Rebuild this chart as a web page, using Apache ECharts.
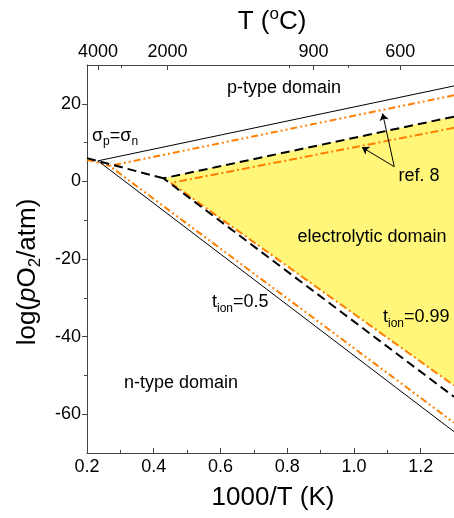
<!DOCTYPE html>
<html><head><meta charset="utf-8">
<script src="https://cdn.jsdelivr.net/npm/echarts@6/dist/echarts.min.js"></script>
<style>html,body{margin:0;padding:0;background:#fff}#c{width:454px;height:518px}</style>
</head><body><div id="c"></div>
<script>
// ---- data ----
const xMajorTicks = [0.2, 0.4, 0.6, 0.8, 1.0, 1.2];
const xMinorTicks = [0.3, 0.5, 0.7, 0.9, 1.1];
const yMajorTicks = [-60, -40, -20, 0, 20];
const yMinorTicks = [-50, -30, -10, 10];
const topTickLabels = ['4000', '2000', '900', '600'];
const topTickAt = [0.233, 0.441, 0.879, 1.139];
const topMinorAt = [0.302, 0.805, 0.983];

const tion05 = [[1.3, 24.6], [0.2327, 5.3], [1.3, -64.5]];
const ref8_05 = [[1.3, 22.2], [0.2675, 4.0], [1.3, -62.2]];
const ref8_05_left = [[0.2, 5.6], [0.2675, 4.0]];
const tion099 = [[1.3, 16.7], [0.4288, 0.8], [1.3, -55.5]];
const tion099_left = [[0.2, 6.0], [0.4288, 0.8]];
const ref8_099 = [[1.3, 13.8], [0.452, -0.4], [1.3, -52.6]];
const electrolyticArea = [[0.432, 0.85], [1.3, 16.7], [1.3, -52.6]];
const arrowStart = [1.121, 3.8];
const arrowTips = [[1.086, 17.5], [1.024, 8.8]];

// ---- styling ----
const FONT = '"Liberation Sans", Arial, Helvetica, sans-serif';
const ORANGE = '#ff7f00';
const AXIS = '#444';
const cvs = document.createElement('canvas').getContext('2d');
function tw(t, size, style) { cvs.font = (style || 'normal') + ' ' + size + 'px ' + FONT; return cvs.measureText(t).width; }
function textRun(pieces, x, y, align, rotate) {
  const widths = pieces.map(p => tw(p[0], p[1], p[3]));
  const total = widths.reduce((a, b) => a + b, 0);
  let cx = align === 'center' ? -total / 2 : 0;
  const children = pieces.map((p, i) => {
    const el = { type: 'text', x: cx, y: p[2] || 0, z: 100,
      style: { text: p[0], fontSize: p[1], fontFamily: FONT, fontStyle: p[3] || 'normal', fill: '#000',
        textAlign: 'left', textVerticalAlign: 'middle', align: 'left', verticalAlign: 'middle' } };
    cx += widths[i];
    return el;
  });
  return { type: 'group', x: x, y: y, rotation: rotate || 0, children: children, silent: true, z: 100 };
}

const chart = echarts.init(document.getElementById('c'), null, { renderer: 'canvas' });
const lbl = { fontSize: 18, color: '#000', fontFamily: FONT };
function baseX(extra) { return Object.assign({ type: 'value', min: 0.2, max: 1.3, splitLine: { show: false } }, extra); }
function baseY(extra) { return Object.assign({ type: 'value', min: -70, max: 30, splitLine: { show: false } }, extra); }
function line(data, color, width, type, z) {
  return { type: 'line', data: data, symbol: 'none', showSymbol: false, silent: true, animation: false,
    xAxisIndex: 0, yAxisIndex: 0, z: z || 3, lineStyle: { color: color, width: width, type: type } };
}

chart.setOption({
  animation: false,
  grid: { left: 87, top: 65, width: 370, height: 388, containLabel: false },
  xAxis: [
    baseX({ position: 'bottom', axisLine: { onZero: false, lineStyle: { color: AXIS, width: 1 } },
      axisTick: { inside: true, length: 5, customValues: xMajorTicks, lineStyle: { color: AXIS } },
      axisLabel: Object.assign({ customValues: xMajorTicks, margin: 5, formatter: v => v.toFixed(1) }, lbl) }),
    baseX({ position: 'bottom', axisLine: { show: false, onZero: false },
      axisTick: { inside: true, length: 3, customValues: xMinorTicks, lineStyle: { color: AXIS } },
      axisLabel: { show: false } }),
    baseX({ position: 'top', axisLine: { onZero: false, lineStyle: { color: AXIS, width: 1 } },
      axisTick: { inside: true, length: 5, customValues: topTickAt, lineStyle: { color: AXIS } },
      axisLabel: Object.assign({ customValues: topTickAt, margin: 4,
        formatter: v => topTickLabels[topTickAt.indexOf(v)] }, lbl) }),
    baseX({ position: 'top', axisLine: { show: false, onZero: false },
      axisTick: { inside: true, length: 3, customValues: topMinorAt, lineStyle: { color: AXIS } },
      axisLabel: { show: false } })
  ],
  yAxis: [
    baseY({ position: 'left', axisLine: { show: true, onZero: false, lineStyle: { color: AXIS, width: 1 } },
      axisTick: { show: true, inside: false, length: 5, customValues: yMajorTicks, lineStyle: { color: AXIS } },
      axisLabel: Object.assign({ customValues: yMajorTicks, margin: 6 }, lbl) }),
    baseY({ position: 'left', axisLine: { show: false, onZero: false },
      axisTick: { show: true, inside: false, length: 3, customValues: yMinorTicks, lineStyle: { color: AXIS } },
      axisLabel: { show: false } })
  ],
  series: [
    { type: 'custom', xAxisIndex: 0, yAxisIndex: 0, data: electrolyticArea, clip: true, silent: true, z: 1,
      renderItem: function (params, api) {
        if (params.dataIndex !== 0) return null;
        return { type: 'polygon', shape: { points: electrolyticArea.map(p => api.coord(p)) },
          style: { fill: '#fff67a' } };
      } },
    line(tion05, '#000', 1, 'solid', 4),
    line(ref8_05, ORANGE, 2, [7, 3, 2, 3, 2, 3], 3),
    line(ref8_05_left, ORANGE, 2, [7, 3, 2, 3, 2, 3], 3),
    line(tion099, '#000', 2, [9, 5], 4),
    line(tion099_left, '#000', 2, [9, 5], 4),
    line(ref8_099, ORANGE, 2, [8, 3, 2, 3], 3),
    { type: 'lines', coordinateSystem: 'cartesian2d', xAxisIndex: 0, yAxisIndex: 0, silent: true, z: 5,
      symbol: ['none', 'arrow'], symbolSize: 7,
      lineStyle: { color: '#000', width: 1, opacity: 1, curveness: 0 },
      data: arrowTips.map(t => ({ coords: [arrowStart, t] })) }
  ],
  graphic: { elements: [
    textRun([['T (', 26], ['o', 17, -8], ['C)', 26]], 272, 22, 'center'),
    textRun([['1000/T (K)', 26]], 273, 498, 'center'),
    textRun([['log(', 26], ['p', 26, 0, 'italic'], ['O', 26], ['2', 17, 7], ['/atm)', 26]], 28, 272, 'center', Math.PI / 2),
    textRun([['p-type domain', 18]], 284, 88, 'center'),
    textRun([['n-type domain', 18]], 181, 383, 'center'),
    textRun([['electrolytic domain', 18]], 372, 237, 'center'),
    textRun([['ref. 8', 18]], 419, 176, 'center'),
    textRun([['\u03c3', 18], ['p', 12, 6], ['=', 18], ['\u03c3', 18], ['n', 12, 6]], 92, 136, 'left'),
    textRun([['t', 18], ['ion', 12, 7], ['=0.5', 18]], 212, 302, 'left'),
    textRun([['t', 18], ['ion', 12, 7], ['=0.99', 18]], 383, 317, 'left')
  ] }
});
</script>
</body></html>
